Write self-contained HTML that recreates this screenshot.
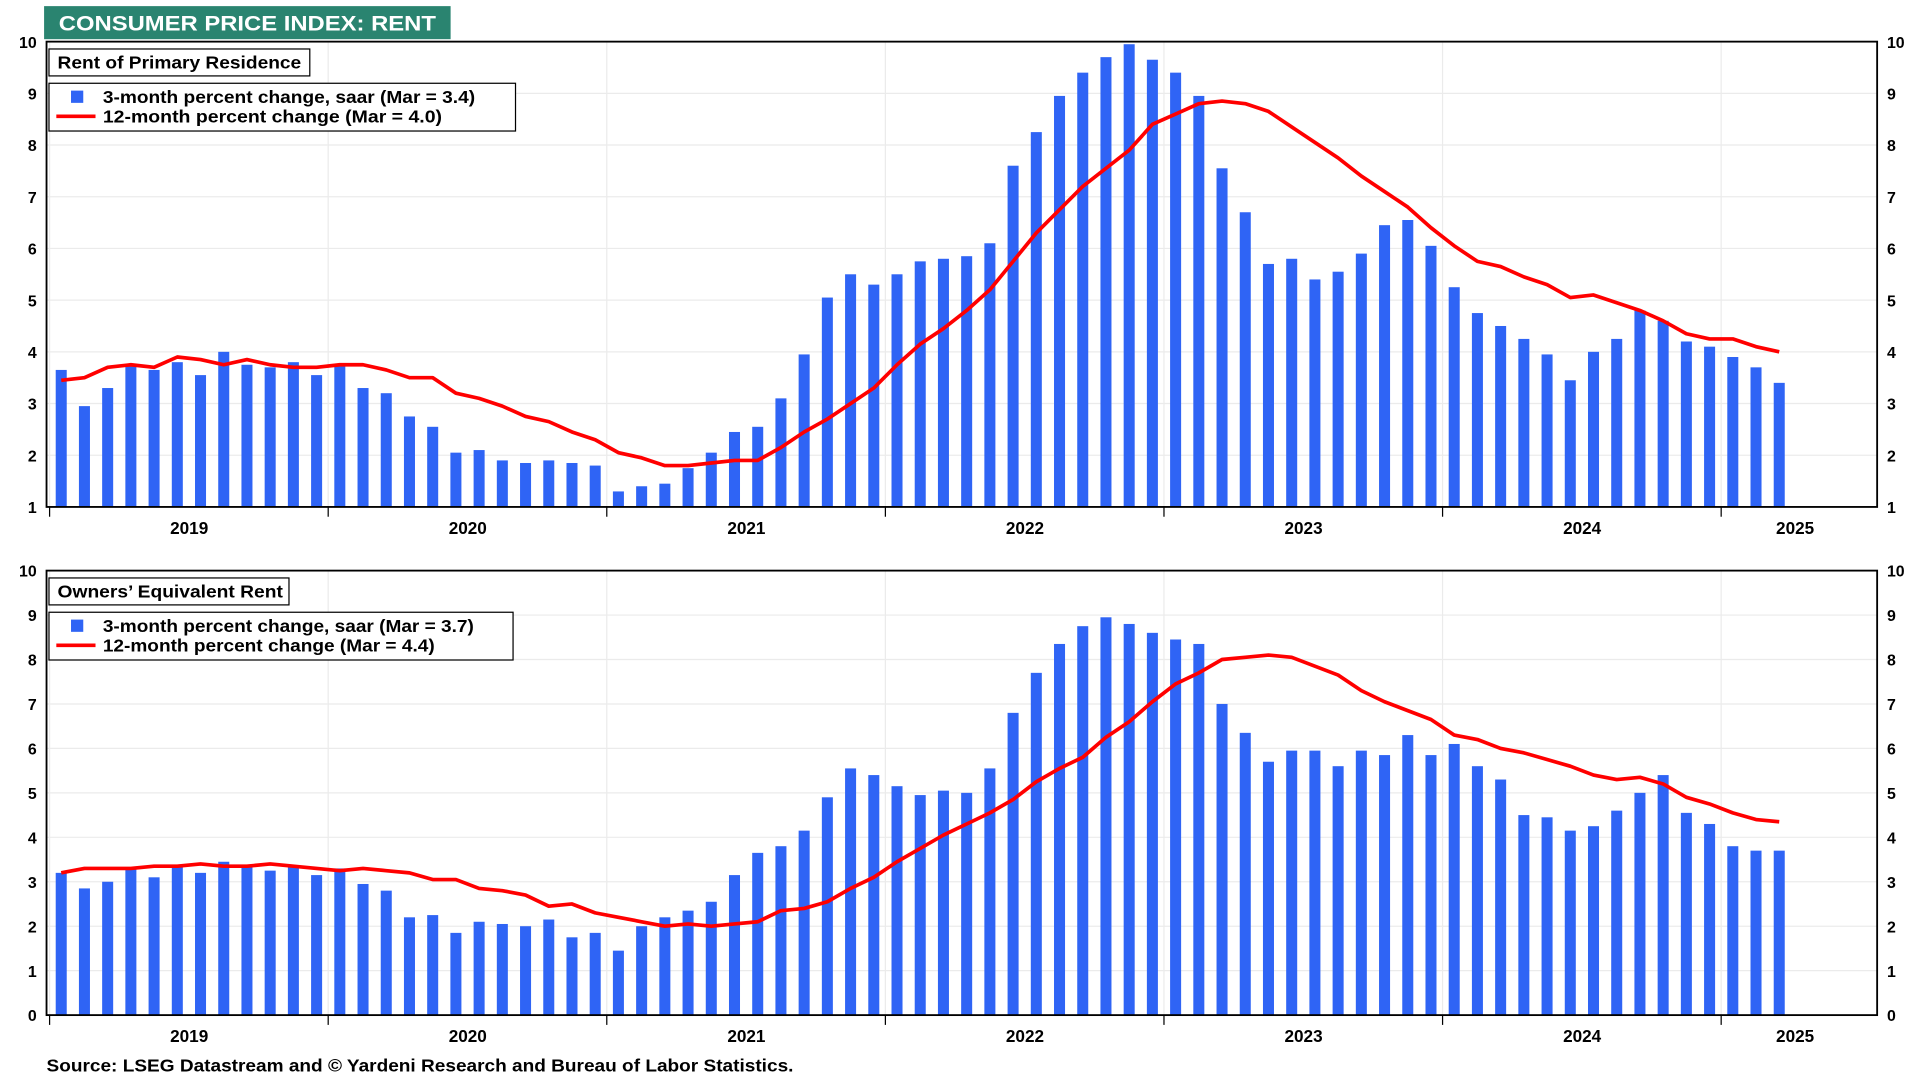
<!DOCTYPE html>
<html><head><meta charset="utf-8"><style>
html,body{margin:0;padding:0;background:#fff;}
svg{display:block;font-family:"Liberation Sans",Arial,sans-serif;}
</style></head><body>
<svg id="chart" width="1920" height="1080" viewBox="0 0 1568 882" xmlns="http://www.w3.org/2000/svg">
<rect x="36" y="5" width="332" height="27" fill="#2a8470"/>
<text x="48" y="25" fill="#fff" font-size="17" font-weight="bold" textLength="308" lengthAdjust="spacingAndGlyphs">CONSUMER PRICE INDEX: RENT</text>
<g id="top"></g><g id="bot"></g>
<text x="38" y="875" font-size="14" font-weight="bold" textLength="610" lengthAdjust="spacingAndGlyphs">Source: LSEG Datastream and © Yardeni Research and Bureau of Labor Statistics.</text>
</svg>
<script>
const years = ["2019","2020","2021","2022","2023","2024","2025"];
const rentBars = [3.65,2.95,3.3,3.75,3.65,3.8,3.55,4.0,3.75,3.7,3.8,3.55,
3.75,3.3,3.2,2.75,2.55,2.05,2.1,1.9,1.85,1.9,1.85,1.8,
1.3,1.4,1.45,1.75,2.05,2.45,2.55,3.1,3.95,5.05,5.5,5.3,
5.5,5.75,5.8,5.85,6.1,7.6,8.25,8.95,9.4,9.7,9.95,9.65,
9.4,8.95,7.55,6.7,5.7,5.8,5.4,5.55,5.9,6.45,6.55,6.05,
5.25,4.75,4.5,4.25,3.95,3.45,4.0,4.25,4.8,4.6,4.2,4.1,
3.9,3.7,3.4];
const rentLine = [3.45,3.5,3.7,3.75,3.7,3.9,3.85,3.75,3.85,3.75,3.7,3.7,
3.75,3.75,3.65,3.5,3.5,3.2,3.1,2.95,2.75,2.65,2.45,2.3,
2.05,1.95,1.8,1.8,1.85,1.9,1.9,2.15,2.45,2.7,3.0,3.3,
3.75,4.15,4.45,4.8,5.2,5.75,6.3,6.75,7.2,7.55,7.9,8.4,
8.6,8.8,8.85,8.8,8.65,8.35,8.05,7.75,7.4,7.1,6.8,6.4,
6.05,5.75,5.65,5.45,5.3,5.05,5.1,4.95,4.8,4.6,4.35,4.25,
4.25,4.1,4.0];
const oerBars = [3.2,2.85,3.0,3.3,3.1,3.35,3.2,3.45,3.35,3.25,3.35,3.15,
3.3,2.95,2.8,2.2,2.25,1.85,2.1,2.05,2.0,2.15,1.75,1.85,
1.45,2.0,2.2,2.35,2.55,3.15,3.65,3.8,4.15,4.9,5.55,5.4,
5.15,4.95,5.05,5.0,5.55,6.8,7.7,8.35,8.75,8.95,8.8,8.6,
8.45,8.35,7.0,6.35,5.7,5.95,5.95,5.6,5.95,5.85,6.3,5.85,
6.1,5.6,5.3,4.5,4.45,4.15,4.25,4.6,5.0,5.4,4.55,4.3,
3.8,3.7,3.7];
const oerLine = [3.2,3.3,3.3,3.3,3.35,3.35,3.4,3.35,3.35,3.4,3.35,3.3,
3.25,3.3,3.25,3.2,3.05,3.05,2.85,2.8,2.7,2.45,2.5,2.3,
2.2,2.1,2.0,2.05,2.0,2.05,2.1,2.35,2.4,2.55,2.85,3.1,
3.45,3.75,4.05,4.3,4.55,4.85,5.25,5.55,5.8,6.25,6.6,7.05,
7.45,7.7,8.0,8.05,8.1,8.05,7.85,7.65,7.3,7.05,6.85,6.65,
6.3,6.2,6.0,5.9,5.75,5.6,5.4,5.3,5.35,5.2,4.9,4.75,
4.55,4.4,4.35];
const NS="http://www.w3.org/2000/svg";
function mk(p,tag,attrs){const e=document.createElementNS(NS,tag);for(const k in attrs)e.setAttribute(k,attrs[k]);p.appendChild(e);return e;}
function panel(gid,top,bottom,ymin,ymax,bars,line,label,lb,ll,labW,legW,labTL,lbTL,llTL){
  const g=document.getElementById(gid);
  const L=38,R=1533;
  const y=v=>bottom-(v-ymin)/(ymax-ymin)*(bottom-top);
  const x=i=>50+i*18.96;
  for(let v=ymin;v<=ymax;v++){
    if(v>ymin&&v<ymax){const gl=mk(g,'line',{x1:L,x2:R,y1:y(v),y2:y(v),stroke:'#ebebeb','stroke-width':1});
    
    }
    const t1=mk(g,'text',{x:30,y:y(v)+5,'text-anchor':'end','font-size':13,'font-weight':'bold'});t1.textContent=v;
    
    
    const t2=mk(g,'text',{x:1541,y:y(v)+5,'font-size':13,'font-weight':'bold'});t2.textContent=v;
    
    
  }
  for(let k=0;k<=6;k++){
    const xv=x(k*12)-9.5;
    const vl=mk(g,'line',{x1:xv,x2:xv,y1:top,y2:bottom,stroke:'#ebebeb','stroke-width':1});
    
    
    const tk=mk(g,'line',{x1:xv,x2:xv,y1:bottom,y2:bottom+8,stroke:'#000','stroke-width':1});
    
    
    const yl=mk(g,'text',{x:k<6?xv+114:1466,y:bottom+22,'text-anchor':'middle','font-size':14,'font-weight':'bold'});
    yl.textContent=years[k];
    
    
  }
  bars.forEach((v,i)=>{
    const b=mk(g,'rect',{x:x(i)-4.5,y:y(v),width:9,height:bottom-y(v),fill:'#2f64f5'});
    
    
  });
  const pl=mk(g,'polyline',{points:line.map((v,i)=>x(i)+','+y(v)).join(' '),fill:'none',stroke:'#f00','stroke-width':3,'stroke-linejoin':'round'});
  
  
  const fr=mk(g,'rect',{x:L,y:top,width:R-L,height:bottom-top,fill:'none',stroke:'#000','stroke-width':1.5});
  
  
  const lbx=mk(g,'rect',{x:40,y:top+6,width:labW,height:22,fill:'#fff',stroke:'#000','stroke-width':1});
  
  
  const lt=mk(g,'text',{x:47,y:top+22,'font-size':14,'font-weight':'bold',textLength:labTL,lengthAdjust:'spacingAndGlyphs'});lt.textContent=label;
  
  
  const lg=mk(g,'rect',{x:40,y:top+34,width:legW,height:39,fill:'#fff',stroke:'#000','stroke-width':1});
  
  
  const sw=mk(g,'rect',{x:58,y:top+40,width:10,height:10,fill:'#2f64f5'});
  
  
  const t3=mk(g,'text',{x:84,y:top+50,'font-size':14,'font-weight':'bold',textLength:lbTL,lengthAdjust:'spacingAndGlyphs'});t3.textContent=lb;
  
  
  const sl=mk(g,'line',{x1:46,x2:78,y1:top+61,y2:top+61,stroke:'#f00','stroke-width':3});
  
  
  const t4=mk(g,'text',{x:84,y:top+66,'font-size':14,'font-weight':'bold',textLength:llTL,lengthAdjust:'spacingAndGlyphs'});t4.textContent=ll;
  
  
}
panel('top',34,414,1,10,rentBars,rentLine,'Rent of Primary Residence','3-month percent change, saar (Mar = 3.4)','12-month percent change  (Mar = 4.0)',213,381,199,304,277);
panel('bot',466,829,0,10,oerBars,oerLine,'Owners’ Equivalent Rent','3-month percent change, saar (Mar = 3.7)','12-month percent change (Mar = 4.4)',196,379,184,303,271);
</script>
</body></html>
